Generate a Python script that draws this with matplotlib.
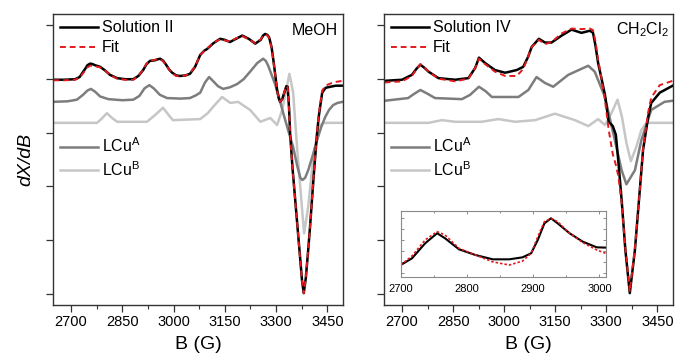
import matplotlib
matplotlib.use("Agg")
import matplotlib.pyplot as plt
from matplotlib.lines import Line2D
from matplotlib.ticker import MultipleLocator

plt.rcParams['font.family'] = ['Liberation Sans', 'DejaVu Sans']
plt.rcParams['mathtext.default'] = 'regular'

# ---------------- data: left panel (MeOH) ----------------
B_sol2 = [2648, 2680, 2712, 2725, 2740, 2748, 2756, 2763, 2770, 2785, 2800, 2814, 2835, 2858,
          2882, 2897, 2911, 2921, 2931, 2945, 2954, 2961, 2970, 2978, 2987, 2996, 3008, 3019,
          3035, 3048, 3063, 3078, 3090, 3098, 3117, 3136, 3150, 3165, 3183, 3201, 3220, 3239,
          3255, 3262, 3268, 3275, 3280, 3287, 3292, 3298, 3303, 3308, 3312, 3318, 3324, 3330,
          3334, 3338, 3341, 3348, 3356, 3364, 3371, 3376, 3381, 3387, 3394, 3400, 3405, 3412,
          3420, 3425, 3429, 3435, 3445, 3459, 3475, 3495]
y_sol2 = [3.98, 3.98, 3.99, 4.03, 4.17, 4.25, 4.28, 4.27, 4.25, 4.22, 4.15, 4.07, 4.01, 3.99,
          3.99, 4.05, 4.16, 4.27, 4.33, 4.34, 4.36, 4.37, 4.33, 4.26, 4.17, 4.11, 4.06, 4.05,
          4.06, 4.09, 4.22, 4.44, 4.52, 4.55, 4.66, 4.74, 4.72, 4.68, 4.74, 4.80, 4.74, 4.65,
          4.72, 4.80, 4.83, 4.81, 4.76, 4.58, 4.35, 4.05, 3.79, 3.63, 3.57, 3.62, 3.74, 3.86,
          3.85, 3.45, 2.99, 2.35, 1.75, 1.15, 0.63, 0.25, 0.02, 0.30, 0.82, 1.30, 1.75, 2.35,
          2.99, 3.30, 3.48, 3.74, 3.83, 3.85, 3.87, 3.87]
y_fit2 = [3.97, 3.97, 3.98, 4.02, 4.14, 4.21, 4.24, 4.24, 4.23, 4.21, 4.15, 4.07, 4.00, 3.98,
          3.98, 4.05, 4.17, 4.28, 4.33, 4.35, 4.36, 4.36, 4.32, 4.25, 4.17, 4.10, 4.05, 4.04,
          4.06, 4.10, 4.23, 4.44, 4.52, 4.56, 4.67, 4.73, 4.71, 4.69, 4.75, 4.79, 4.73, 4.66,
          4.73, 4.79, 4.82, 4.80, 4.75, 4.57, 4.34, 4.04, 3.78, 3.62, 3.57, 3.62, 3.75, 3.86,
          3.84, 3.44, 2.98, 2.34, 1.74, 1.14, 0.62, 0.24, 0.02, 0.30, 0.82, 1.30, 1.76, 2.37,
          3.01, 3.33, 3.52, 3.78, 3.87, 3.91, 3.94, 3.96]

B_A2 = [2648, 2690, 2717, 2735, 2748, 2758, 2770, 2785, 2809, 2850, 2882, 2900, 2915, 2929,
        2942, 2960, 2981, 3020, 3048, 3065, 3078, 3092, 3104, 3115, 3130, 3145, 3165, 3186,
        3205, 3224, 3245, 3262, 3270, 3277, 3287, 3298, 3310, 3321, 3335, 3350, 3362, 3371,
        3377, 3385, 3394, 3407, 3420, 3432, 3444, 3455, 3467, 3480, 3495]
y_A2 = [3.57, 3.58, 3.61, 3.70, 3.78, 3.81, 3.76, 3.67, 3.62, 3.60, 3.61, 3.68, 3.82, 3.88,
        3.82, 3.70, 3.64, 3.63, 3.64, 3.69, 3.74, 3.93, 4.03, 3.96, 3.86, 3.81, 3.84, 3.90,
        3.99, 4.13, 4.29, 4.37, 4.33, 4.24, 4.07, 3.88, 3.62, 3.36, 3.05, 2.73, 2.38, 2.16,
        2.12, 2.16, 2.30, 2.57, 2.86, 3.10, 3.29, 3.42, 3.51, 3.55, 3.57]

B_B2 = [2648, 2776, 2790, 2805, 2820, 2835, 2922, 2945, 2969, 2985, 2998, 3078, 3100, 3116,
        3142, 3155, 3166, 3189, 3205, 3224, 3254, 3283, 3303, 3318, 3330, 3339, 3350, 3362,
        3377, 3382, 3394, 3409, 3424, 3438, 3495]
y_B2 = [3.18, 3.18, 3.26, 3.36, 3.27, 3.20, 3.20, 3.32, 3.46, 3.33, 3.23, 3.25, 3.36, 3.48,
        3.66, 3.60, 3.55, 3.57, 3.50, 3.42, 3.20, 3.27, 3.14, 3.42, 3.80, 4.09, 3.74, 2.68,
        1.51, 1.13, 1.62, 2.55, 3.10, 3.18, 3.18]

# ---------------- data: right panel (CH2Cl2) ----------------
B_sol4 = [2649, 2700, 2729, 2742, 2754, 2766, 2778, 2807, 2856, 2895, 2915, 2926, 2944, 2973,
          3003, 3037, 3056, 3070, 3081, 3102, 3120, 3139, 3169, 3198, 3227, 3252, 3261, 3268,
          3276, 3286, 3296, 3307, 3319, 3328, 3335, 3345, 3356, 3369, 3384, 3396, 3408, 3423,
          3432, 3457, 3495]
y_sol4 = [3.96, 3.98, 4.07, 4.18, 4.26, 4.20, 4.13, 4.01, 3.98, 4.01, 4.20, 4.39, 4.29, 4.16,
          4.11, 4.16, 4.22, 4.40, 4.59, 4.74, 4.67, 4.67, 4.80, 4.91, 4.85, 4.89, 4.85, 4.62,
          4.29, 4.00, 3.70, 3.20, 3.12, 2.96, 2.49, 1.75, 0.82, 0.02, 0.82, 1.75, 2.68, 3.29,
          3.55, 3.74, 3.87]
y_fit4 = [3.93, 3.95, 4.05, 4.17, 4.27, 4.21, 4.13, 4.00, 3.95, 4.00, 4.20, 4.37, 4.27, 4.13,
          4.05, 4.05, 4.18, 4.40, 4.59, 4.72, 4.64, 4.68, 4.84, 4.93, 4.92, 4.93, 4.90, 4.70,
          4.35, 4.00, 3.60, 3.05, 2.60, 2.40, 2.20, 1.70, 0.85, 0.05, 0.85, 1.75, 2.70, 3.38,
          3.65, 3.88, 3.96]

B_A4 = [2649, 2718, 2736, 2754, 2775, 2797, 2876, 2900, 2926, 2945, 2964, 3042, 3071, 3095,
        3120, 3144, 3188, 3247, 3266, 3296, 3325, 3345, 3359, 3384, 3403, 3432, 3471, 3495]
y_A4 = [3.59, 3.64, 3.72, 3.79, 3.72, 3.64, 3.62, 3.70, 3.85, 3.77, 3.66, 3.66, 3.79, 4.03,
        3.92, 3.85, 4.07, 4.24, 4.13, 3.66, 2.86, 2.30, 2.04, 2.30, 2.86, 3.42, 3.57, 3.59]

B_B4 = [2649, 2778, 2817, 2856, 2934, 2983, 3032, 3091, 3149, 3208, 3247, 3276, 3296, 3315,
        3333, 3346, 3359, 3372, 3388, 3403, 3418, 3495]
y_B4 = [3.18, 3.18, 3.23, 3.20, 3.20, 3.25, 3.20, 3.23, 3.35, 3.23, 3.12, 3.25, 3.14, 3.36,
        3.61, 3.29, 2.81, 2.47, 2.73, 3.05, 3.18, 3.18]

# ---------------- data: inset ----------------
B_ins = [2700, 2717, 2737, 2755, 2767, 2788, 2813, 2839, 2864, 2884, 2897, 2907, 2917, 2927,
         2937, 2955, 2975, 2996, 3012]
y_ins_sol = [0.71, 1.32, 2.69, 3.60, 3.14, 2.14, 1.62, 1.23, 1.23, 1.41, 1.78, 2.99, 4.50, 4.96,
             4.50, 3.60, 2.83, 2.32, 2.29]
y_ins_fit = [0.71, 1.53, 3.00, 3.75, 3.44, 2.23, 1.62, 1.00, 0.71, 1.07, 1.78, 3.29, 4.65, 4.96,
             4.65, 3.60, 2.75, 2.08, 1.72]

x_ticks = [2700, 2850, 3000, 3150, 3300, 3450]
inset_ticks = [2700, 2800, 2900, 3000]

C_BLACK = '#000000'
C_RED = '#e3191c'
C_A = '#7d7d7d'
C_B = '#c6c6c6'
FRAME = '#333333'

W, H = 675, 360
fig = plt.figure(figsize=(6.75, 3.6), dpi=100)


def rect(x0, x1, y0, y1):
    return [x0 / W, (H - y1) / H, (x1 - x0) / W, (y1 - y0) / H]


axL = fig.add_axes(rect(53.3, 342.7, 14, 305))
axR = fig.add_axes(rect(384.3, 672.7, 14, 305))

panels = [
    (axL, B_sol2, y_sol2, y_fit2, B_A2, y_A2, B_B2, y_B2, 'Solution II', 'MeOH'),
    (axR, B_sol4, y_sol4, y_fit4, B_A4, y_A4, B_B4, y_B4, 'Solution IV', 'CH$_2$Cl$_2$'),
]

for ax, Bs, ys, yf, BA, yA, BB, yB, lab, solv in panels:
    ax.plot(BB, yB, color=C_B, lw=1.8, solid_joinstyle='round')
    ax.plot(BA, yA, color=C_A, lw=1.8, solid_joinstyle='round')
    ax.plot(Bs, ys, color=C_BLACK, lw=1.8, solid_joinstyle='round')
    ax.plot(Bs, yf, color=C_RED, lw=1.4, dashes=(3, 2))
    ax.set_xlim(2648, 3495)
    ax.set_ylim(-0.2, 5.2)
    ax.set_xticks(x_ticks)
    ax.xaxis.set_minor_locator(MultipleLocator(75))
    ax.set_yticks(range(6))
    ax.set_yticklabels([])
    ax.tick_params(axis='both', which='major', direction='out', length=5, width=0.9,
                   color=FRAME, labelsize=10.5, pad=2.5)
    ax.tick_params(axis='x', which='minor', direction='out', length=3, width=0.8, color=FRAME)
    for s in ax.spines.values():
        s.set_color(FRAME)
        s.set_linewidth(1.0)
    ax.set_xlabel('B (G)', fontsize=14, labelpad=5)
    h1 = [Line2D([], [], color=C_BLACK, lw=1.8), Line2D([], [], color=C_RED, lw=1.4, dashes=(3, 2))]
    leg1 = ax.legend(h1, [lab, 'Fit'], loc='upper left', bbox_to_anchor=(0.0, 1.0),
                     frameon=False, fontsize=11.5, handlelength=2.4, handletextpad=0.25,
                     labelspacing=0.3, borderaxespad=0.3, borderpad=0.1)
    ax.add_artist(leg1)
    h2 = [Line2D([], [], color=C_A, lw=1.8), Line2D([], [], color=C_B, lw=1.8)]
    ax.legend(h2, ['LCu$^{A}$', 'LCu$^{B}$'], loc='upper left', bbox_to_anchor=(0.0, 0.6),
              frameon=False, fontsize=11.5, handlelength=2.4, handletextpad=0.25,
              labelspacing=0.3, borderaxespad=0.3, borderpad=0.1)
    ax.text(0.985, 0.945, solv, transform=ax.transAxes, ha='right', va='center', fontsize=11.5)

axL.set_ylabel('dX/dB', fontsize=14, style='italic', labelpad=6)

# inset
axI = fig.add_axes(rect(400.7, 606, 210.7, 276.7))
axI.plot(B_ins, y_ins_sol, color=C_BLACK, lw=1.5, solid_joinstyle='round')
axI.plot(B_ins, y_ins_fit, color=C_RED, lw=1.2, dashes=(1.5, 1.2))
axI.set_xlim(2700, 3010)
axI.set_ylim(-0.35, 5.65)
axI.set_xticks(inset_ticks)
axI.xaxis.set_minor_locator(MultipleLocator(50))
axI.set_yticks(range(6))
axI.set_yticklabels([])
axI.tick_params(axis='both', which='both', direction='in', top=True, right=True,
                length=2.5, width=0.6, color='#777777', labelsize=8, pad=5)
axI.tick_params(axis='both', which='minor', length=1.5)
for s in axI.spines.values():
    s.set_color('#8a8a8a')
    s.set_linewidth(0.8)

fig.savefig('out.png', dpi=100)
